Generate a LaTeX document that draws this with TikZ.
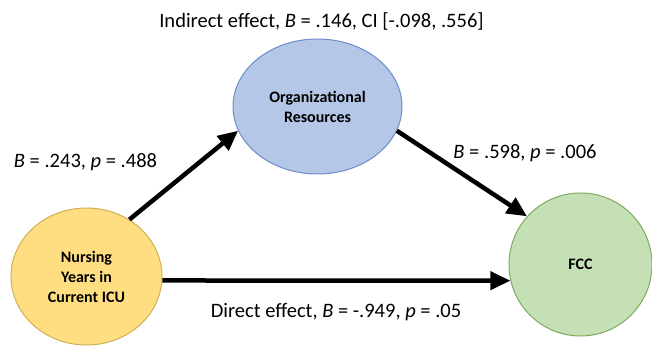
\documentclass[tikz,border=0pt]{standalone}
\usepackage{fontspec}
\setmainfont{Carlito}
\usetikzlibrary{shapes.geometric,arrows.meta}
\definecolor{orgfill}{RGB}{180,199,231}
\definecolor{orgline}{RGB}{110,140,200}
\definecolor{nursefill}{RGB}{255,222,130}
\definecolor{nurseline}{RGB}{210,175,85}
\definecolor{fccfill}{RGB}{197,224,180}
\definecolor{fccline}{RGB}{125,170,95}
\newcommand{\labelsize}{\fontsize{20.5}{24}\selectfont}
\newcommand{\varsize}{\fontsize{16}{20}\selectfont}

\begin{document}
\begin{tikzpicture}[x=1pt,y=1pt,
    var/.style={draw, ellipse, inner sep=0pt, line width=1pt, align=center, font=\varsize\bfseries},
    effect/.style={line width=4.5pt, -{Triangle[length=20pt,width=18pt]}},
    coef/.style={font=\labelsize, inner sep=0pt}]
      % mediation model
        \useasboundingbox (0,0) rectangle (652,347);
        \node (nurse) at (86.5,70.5) [var, fill=nursefill, draw=nurseline, minimum width=151, minimum height=137] {Nursing\\Years in\\Current ICU};
        \node (org) at (317.5,240.5) [var, fill=orgfill, draw=orgline, minimum width=169, minimum height=135] {Organizational\\Resources};
        \node (fcc) at (580.5,82.5) [var, fill=fccfill, draw=fccline, minimum width=143, minimum height=143] {FCC};

        \draw[effect] (nurse.53) to (org.197);
        \draw[effect] (org.343) to (fcc.138);
        \draw[effect] (nurse.357) to (fcc.193);

        \node (indirect) at (321.5,326) [coef] {Indirect effect, \textit{B} = .146, CI [-.098, .556]};
        \node (a) at (85.5,185) [coef] {\textit{B} = .243, \textit{p} = .488};
        \node (b) at (525,194) [coef] {\textit{B} = .598, \textit{p} = .006};
        \node (direct) at (336,35) [coef] {Direct effect, \textit{B} = -.949, \textit{p} = .05};
    \end{tikzpicture}
\end{document}
